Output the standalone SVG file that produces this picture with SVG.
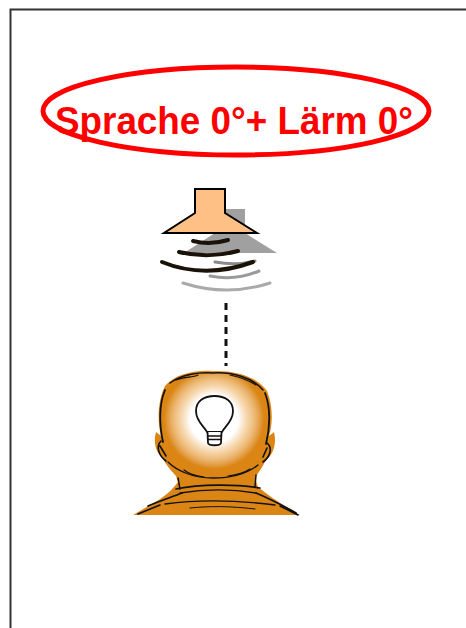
<svg xmlns="http://www.w3.org/2000/svg" width="466" height="628" viewBox="0 0 466 628">
  <defs>
    <radialGradient id="glow" cx="214" cy="419" r="50" gradientUnits="userSpaceOnUse">
      <stop offset="0" stop-color="#ffffff" stop-opacity="1"/>
      <stop offset="0.48" stop-color="#ffffff" stop-opacity="1"/>
      <stop offset="0.72" stop-color="#fbe2c0" stop-opacity="0.75"/>
      <stop offset="1" stop-color="#ffffff" stop-opacity="0"/>
    </radialGradient>
    <clipPath id="headClip">
      <path d="M165,387 C175,375 195,370 213,371 C235,370 258,378 266,392 C272,405 272,425 268,440 C264,455 258,468 250,476 L180,476 C170,466 162,452 160,438 C158,420 158,400 165,387 Z"/>
    </clipPath>
    <style>
      .title { font-family: "Liberation Sans", Arial, sans-serif; font-weight: bold; fill: #ff0000; }
      .wave { fill: none; stroke-linecap: round; }
      .ink { fill: none; stroke: #111; stroke-linecap: round; stroke-linejoin: round; }
    </style>
  </defs>

  <rect width="466" height="628" fill="#ffffff"/>

  <!-- page frame, running off the right and bottom edges -->
  <g id="frame">
    <rect x="10.5" y="9.5" width="480" height="640" fill="none" stroke="#333" stroke-width="2"/>
  </g>

  <!-- title label -->
  <g id="title">
    <ellipse cx="236" cy="111" rx="193" ry="44" fill="#ffffff" stroke="#ff0000" stroke-width="5"/>
    <text class="title" x="55" y="134" font-size="39" textLength="358" lengthAdjust="spacingAndGlyphs">Sprache 0°+ Lärm 0°</text>
  </g>

  <!-- loudspeaker with sound waves -->
  <g id="speaker">
    <path d="M215,209 H245 V233 L277,253 H184 L215,233 Z" fill="#a0a0a0"/>
    <path class="wave" d="M215,262 Q237,266 255,261" stroke="#8a8a8a" stroke-width="3"/>
    <path class="wave" d="M210,276 Q236,281 259,271" stroke="#9a9a9a" stroke-width="3"/>
    <path class="wave" d="M183,283 Q227,297 270,283" stroke="#aaaaaa" stroke-width="3"/>
    <path class="wave" d="M193,241 Q210,245.5 228,240" stroke="#1a1208" stroke-width="4"/>
    <path class="wave" d="M179,252 Q208,259 238,251" stroke="#1a1208" stroke-width="4"/>
    <path class="wave" d="M162,262 Q205,279.5 253,262" stroke="#1a1208" stroke-width="4"/>
    <path d="M195,189 H225 V213 L257,233 H164 L195,213 Z" fill="#ffc085" stroke="#000" stroke-width="2" stroke-linejoin="miter"/>
  </g>

  <!-- connector between speaker and listener -->
  <g id="connectors">
    <line x1="226" y1="303" x2="226" y2="366" stroke="#111" stroke-width="3" stroke-dasharray="7 5"/>
  </g>

  <!-- listener seen from behind, with a light bulb idea -->
  <g id="listener">
    <path d="M133,515 L150,505 C165,497 172,490 178,482 L176,476 C170,470 165,463 162,457 C156,453 153,442 156,432 L161,436 C157,420 158,400 165,386 C175,374 195,370 213,371 C235,370 258,377 267,391 C273,405 273,424 269,436 L274,432 C277,444 273,455 266,460 C262,468 258,473 255,478 L258,487 C268,495 282,505 300,515 Z" fill="#db8515"/>
    <circle cx="214" cy="419" r="50" fill="url(#glow)" clip-path="url(#headClip)"/>

    <!-- sketch lines -->
    <path class="ink" stroke-width="1.8" d="M165,390 C159,404 159,424 163,442"/>
    <path class="ink" stroke-width="1.5" d="M170,383 C182,374 200,372 213,373 C232,372 252,377 263,390"/>
    <path class="ink" stroke-width="1.2" d="M176,380 C185,376 192,378 198,375 M230,375 C240,377 248,380 256,385"/>
    <path class="ink" stroke-width="1.8" d="M265,393 C271,408 270,428 266,444"/>
    <path class="ink" stroke-width="1.6" d="M161,441 C156,446 158,455 166,461 M160,446 L166,456"/>
    <path class="ink" stroke-width="1.6" d="M267,443 C273,448 270,457 263,462 M267,448 L263,457"/>
    <path class="ink" stroke-width="1.3" d="M168,462 C178,472 195,478 213,478 C232,478 248,473 258,465"/>
    <path class="ink" stroke-width="1.2" d="M184,470 C190,475 197,476 204,477 M228,476 C236,475 244,473 250,469"/>
    <path class="ink" stroke-width="1.5" d="M178,478 L180,489 M256,475 L255,487"/>
    <path class="ink" stroke-width="1.6" d="M176,489 C200,484 236,484 260,488"/>
    <path class="ink" stroke-width="1.4" d="M180,493 C205,489 232,489 256,493"/>
    <path class="ink" stroke-width="1.8" d="M148,506 C162,500 172,497 182,493"/>
    <path class="ink" stroke-width="1.8" d="M256,493 C268,498 282,505 296,513"/>
    <path class="ink" stroke-width="1.3" d="M165,504 C195,500 235,500 275,505"/>
    <path class="ink" stroke-width="1" d="M190,508 C210,506 230,506 255,509"/>
    <path class="ink" stroke-width="1.6" d="M138,514 L160,505 M280,506 L298,515"/>

    <!-- light bulb -->
    <path d="M207,432 C205,427 196,422 196,411 C196,401 204,396 214.5,396 C225,396 233,401 233,411 C233,422 224,427 222,432 Z" fill="#ffffff" stroke="#111" stroke-width="1.8" stroke-linejoin="round"/>
    <path d="M207.5,432 L208,443 C209,446 220,446 221,443 L221.5,432" fill="#ffffff" stroke="#111" stroke-width="1.8" stroke-linejoin="round"/>
    <path class="ink" stroke-width="1.3" d="M208,436 L221,436 M208,439.5 L221,439.5"/>
  </g>
</svg>
